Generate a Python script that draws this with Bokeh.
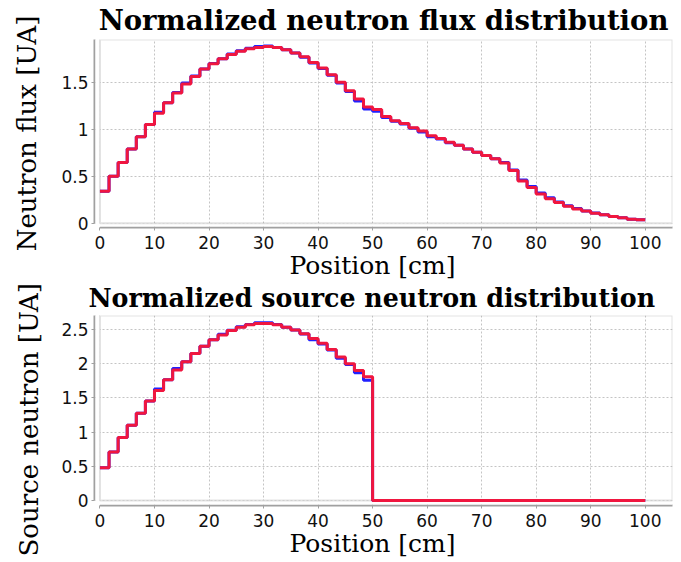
import numpy as np
from bokeh.plotting import figure
from bokeh.layouts import column
from bokeh.models import Range1d, FixedTicker, BoxAnnotation, Title, NumeralTickFormatter
from bokeh.embed import file_html
from bokeh.resources import INLINE

# ---------------- data ----------------
bin_edges = list(np.linspace(0, 100, 61))          # 60 bins of 1.667 cm
x_ticks = [0, 10, 20, 30, 40, 50, 60, 70, 80, 90, 100]
flux_y_ticks = [0, 0.5, 1, 1.5]
source_y_ticks = [0, 0.5, 1, 1.5, 2, 2.5]

flux_red = [0.34, 0.50, 0.646, 0.79, 0.92, 1.05, 1.17, 1.28, 1.385, 1.48,
            1.56, 1.64, 1.695, 1.75, 1.795, 1.83, 1.855, 1.87, 1.88, 1.87,
            1.845, 1.81, 1.77, 1.71, 1.65, 1.58, 1.50, 1.41, 1.32, 1.235,
            1.21, 1.135, 1.09, 1.06, 1.015, 0.98, 0.93, 0.90, 0.86, 0.83,
            0.79, 0.755, 0.72, 0.685, 0.64, 0.56, 0.45, 0.38, 0.31, 0.26,
            0.22, 0.18, 0.15, 0.13, 0.106, 0.09, 0.07, 0.057, 0.043, 0.036]
flux_blue = [0.34, 0.50, 0.646, 0.79, 0.92, 1.05, 1.18, 1.28, 1.39, 1.49,
             1.565, 1.64, 1.70, 1.75, 1.80, 1.835, 1.86, 1.88, 1.885, 1.87,
             1.845, 1.81, 1.765, 1.705, 1.645, 1.575, 1.49, 1.40, 1.30, 1.215,
             1.19, 1.125, 1.085, 1.055, 1.01, 0.97, 0.92, 0.895, 0.855, 0.83,
             0.79, 0.755, 0.72, 0.685, 0.645, 0.565, 0.46, 0.39, 0.32, 0.27,
             0.225, 0.185, 0.155, 0.13, 0.108, 0.09, 0.07, 0.057, 0.043, 0.036]

source_red = [0.48, 0.71, 0.92, 1.10, 1.275, 1.455, 1.61, 1.765, 1.91, 2.03,
              2.15, 2.255, 2.35, 2.42, 2.485, 2.535, 2.57, 2.59, 2.59, 2.57,
              2.535, 2.495, 2.44, 2.37, 2.30, 2.21, 2.10, 2.00, 1.90, 1.81,
              0, 0, 0, 0, 0, 0, 0, 0, 0, 0,
              0, 0, 0, 0, 0, 0, 0, 0, 0, 0,
              0, 0, 0, 0, 0, 0, 0, 0, 0, 0]
source_blue = [0.48, 0.71, 0.92, 1.10, 1.275, 1.455, 1.63, 1.765, 1.93, 2.03,
               2.15, 2.255, 2.35, 2.43, 2.49, 2.54, 2.575, 2.60, 2.60, 2.575,
               2.535, 2.495, 2.435, 2.35, 2.29, 2.20, 2.08, 1.99, 1.87, 1.76,
               0, 0, 0, 0, 0, 0, 0, 0, 0, 0,
               0, 0, 0, 0, 0, 0, 0, 0, 0, 0,
               0, 0, 0, 0, 0, 0, 0, 0, 0, 0]

titles = ["Normalized neutron flux distribution", "Normalized source neutron distribution"]
y_labels = ["Neutron flux [UA]", "Source neutron [UA]"]
x_label = "Position [cm]"

# ---------------- style ----------------
SERIF = "DejaVu Serif"
SANS = "DejaVu Sans"
GRAY = "#a0a0a0"
RED = "#f0163f"
BLUE = "#2020ff"


def make_fig(height, b_top, b_bottom, y0, y1, yticks, red, blue):
    p = figure(width=681, height=height, output_backend="svg", toolbar_location=None,
               x_range=Range1d(-1.0, 105.0), y_range=Range1d(y0, y1),
               min_border_left=93, min_border_right=9,
               min_border_top=b_top, min_border_bottom=b_bottom)
    p.outline_line_color = None
    p.background_fill_color = "white"
    p.border_fill_color = "white"

    # grid
    p.xgrid.ticker = FixedTicker(ticks=x_ticks)
    p.ygrid.ticker = FixedTicker(ticks=yticks)
    for g in (p.xgrid, p.ygrid):
        g.grid_line_color = "#c4c4c4"
        g.grid_line_dash = "2 2"
        g.grid_line_width = 1

    # axes
    p.xaxis.ticker = FixedTicker(ticks=x_ticks)
    p.yaxis.ticker = FixedTicker(ticks=yticks)
    p.yaxis.formatter = NumeralTickFormatter(format="0.[0]")
    p.xaxis.bounds = (0, 105)
    p.yaxis.bounds = (0, y1)
    for ax in (p.xaxis, p.yaxis):
        ax.axis_line_color = GRAY
        ax.axis_line_width = 2
        ax.major_tick_line_color = GRAY
        ax.major_tick_line_width = 1
        ax.major_tick_out = 3
        ax.major_tick_in = 0
        ax.minor_tick_line_color = None
        ax.major_label_text_font = SANS
        ax.major_label_text_font_size = "17px"
        ax.major_label_text_color = "#111111"
        ax.major_label_standoff = 3
        ax.axis_label_text_font = SERIF
        ax.axis_label_text_font_style = "normal"
        ax.axis_label_text_color = "black"
    p.xaxis.major_label_standoff = 5

    # white covers of the gap between axes and the plot box
    px_x = 106.0 / 579.0
    px_y = (y1 - y0) / (p.height - b_top - b_bottom)
    p.add_layout(BoxAnnotation(left=-1.0 + px_x, right=0, fill_color="white",
                               fill_alpha=1, line_color=None))
    p.add_layout(BoxAnnotation(left=-1.0 + px_x, bottom=y0 + px_y, top=0,
                               fill_color="white", fill_alpha=1, line_color=None))
    # plot box
    p.add_layout(BoxAnnotation(left=0, right=105, bottom=0, top=y1,
                               fill_alpha=0, line_color=GRAY, line_width=2))

    r1 = p.step(x=bin_edges, y=blue + [blue[-1]], mode="after",
                line_color=BLUE, line_width=3)
    r2 = p.step(x=bin_edges, y=red + [red[-1]], mode="after",
                line_color=RED, line_width=3)
    r1.level = "overlay"
    r2.level = "overlay"

    # x axis title (below the tick labels)
    p.add_layout(Title(text=x_label, align="left", offset=195, vertical_align="bottom",
                       standoff=-5, text_font=SERIF, text_font_size="25px",
                       text_font_style="normal", text_color="black"), "below")
    return p


# ---- top chart
p1 = make_fig(282, 39, 55, -0.046, 1.954, flux_y_ticks, flux_red, flux_blue)
p1.title = Title(text=titles[0], align="center", vertical_align="top", text_font=SERIF,
                 text_font_size="27.5px", text_font_style="bold",
                 text_color="black", standoff=4)
p1.yaxis.axis_label = y_labels[0]
p1.yaxis.axis_label_text_font_size = "26px"
p1.yaxis.axis_label_standoff = 16

# ---- bottom chart
p2 = make_fig(280, 33, 57, -0.0735, 2.706, source_y_ticks, source_red, source_blue)
p2.title = Title(text=titles[1], align="left", offset=-6, vertical_align="top",
                 text_font=SERIF, text_font_size="25.3px", text_font_style="bold",
                 text_color="black", standoff=1)
p2.add_layout(Title(text=y_labels[1], align="left", offset=-51, vertical_align="top",
                    standoff=26, text_font=SERIF, text_font_size="26px",
                    text_font_style="normal", text_color="black"), "left")

layout = column(p1, p2, spacing=0)
open("out.html", "w").write(file_html(layout, INLINE))
